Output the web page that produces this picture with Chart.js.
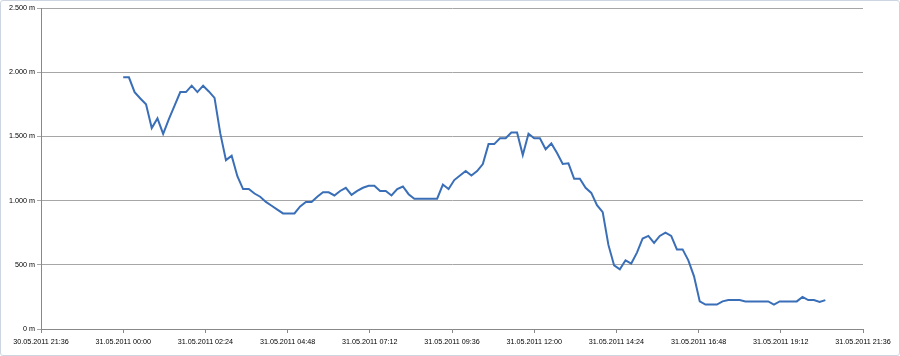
<!DOCTYPE html>
<html>
<head>
<meta charset="utf-8">
<script src="https://cdn.jsdelivr.net/npm/chart.js@4/dist/chart.umd.min.js"></script>
<style>
  html, body { margin: 0; padding: 0; background: #fff; }
  #wrap { position: relative; width: 900px; height: 356px; }
  #frame { position: absolute; left: 0; top: 0; width: 900px; height: 356px; box-sizing: border-box;
           border: 1px solid #ccd5e0; border-radius: 3px; pointer-events: none; }
</style>
</head>
<body>
<div id="wrap">
  <canvas id="chart" width="900" height="356"></canvas>
  <div id="frame"></div>
</div>
<script>
// x axis runs in minutes from 30.05.2011 21:36
const xTickLabels = [
  '30.05.2011 21:36', '31.05.2011 00:00', '31.05.2011 02:24', '31.05.2011 04:48',
  '31.05.2011 07:12', '31.05.2011 09:36', '31.05.2011 12:00', '31.05.2011 14:24',
  '31.05.2011 16:48', '31.05.2011 19:12', '31.05.2011 21:36'
];
const yTickLabels = ['0 m', '500 m', '1.000 m', '1.500 m', '2.000 m', '2.500 m'];

// first reading at 31.05.2011 00:00, one reading every 10 minutes
const firstReading = 144;
const readingStep = 10;
const altitude = [
  1960, 1960, 1845, 1795, 1750, 1565, 1640, 1520, 1635, 1740,
  1845, 1845, 1895, 1845, 1895, 1850, 1800, 1525, 1315, 1350,
  1190, 1090, 1090, 1055, 1030, 990, 960, 930, 900, 900,
  900, 955, 990, 990, 1030, 1065, 1065, 1040, 1075, 1100,
  1045, 1075, 1100, 1115, 1115, 1075, 1075, 1040, 1090, 1110,
  1050, 1015, 1015, 1015, 1015, 1015, 1125, 1090, 1160, 1195,
  1230, 1195, 1230, 1285, 1440, 1440, 1485, 1485, 1530, 1530,
  1355, 1520, 1485, 1485, 1400, 1445, 1370, 1285, 1290, 1170,
  1170, 1100, 1060, 965, 910, 655, 495, 465, 535, 510,
  595, 705, 725, 670, 725, 750, 725, 620, 620, 535,
  410, 215, 190, 190, 190, 215, 225, 225, 225, 215,
  215, 215, 215, 215, 190, 215, 215, 215, 215, 250,
  225, 225, 210, 225
];

const points = altitude.map((v, i) => ({ x: firstReading + i * readingStep, y: v }));

const font = { family: 'Liberation Sans', size: 7.2 };

new Chart(document.getElementById('chart'), {
  type: 'line',
  data: {
    datasets: [{
      data: points,
      borderColor: '#3a6fb8',
      borderWidth: 2,
      pointRadius: 0,
      tension: 0,
      fill: false
    }]
  },
  options: {
    responsive: false,
    animation: false,
    layout: { padding: { left: 0, right: 37, top: 8, bottom: 0 } },
    plugins: { legend: { display: false }, tooltip: { enabled: false } },
    scales: {
      x: {
        type: 'linear',
        min: 0,
        max: 1440,
        afterFit: s => { s.height = 27; },
        afterBuildTicks: s => { s.ticks = xTickLabels.map((_, i) => ({ value: i * 144 })); },
        ticks: {
          autoSkip: false,
          maxRotation: 0,
          color: '#000000',
          font: font,
          padding: 5,
          callback: (v, i) => xTickLabels[i]
        },
        grid: { drawOnChartArea: false, drawTicks: true, tickLength: 4, color: '#888888' },
        border: { color: '#888888' }
      },
      y: {
        min: 0,
        max: 2500,
        afterFit: s => { s.width = 41; },
        afterBuildTicks: s => { s.ticks = yTickLabels.map((_, i) => ({ value: i * 500 })); },
        ticks: {
          color: '#000000',
          font: font,
          padding: 2,
          callback: (v, i) => yTickLabels[i]
        },
        grid: { color: '#a6a6a6', tickLength: 4, lineWidth: 1 },
        border: { color: '#888888' }
      }
    }
  }
});
</script>
</body>
</html>
